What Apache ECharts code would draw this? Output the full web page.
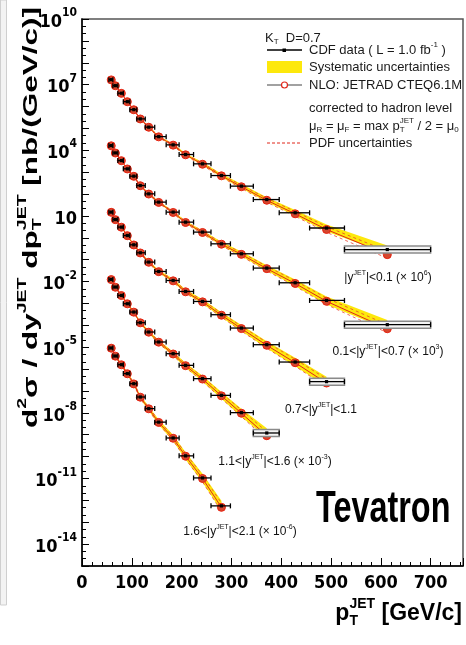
<!DOCTYPE html>
<html><head><meta charset="utf-8">
<script src="https://cdn.jsdelivr.net/npm/echarts@6/dist/echarts.min.js"></script>
<style>html,body{margin:0;padding:0;background:#fff}#c{width:466px;height:645px}</style>
</head><body><div id="c"></div>
<script>
// ---- data (pT in GeV/c, cross sections in nb/(GeV/c), already scaled by the factors in the labels)
const ptCenter = [58.7, 67, 79, 91, 104, 117, 134, 154, 183, 208, 242, 280, 320, 371, 428, 491, 613];
const binLow   = [54, 62, 72, 83, 96, 110, 127, 146, 169, 195, 224, 259, 298, 344, 396, 457, 527];
const binHigh  = [62, 72, 83, 96, 110, 127, 146, 169, 195, 224, 259, 298, 344, 396, 457, 527, 700];

const cdf1 = [1.69e7, 9.0e6, 4.05e6, 1.67e6, 7.2e5, 2.72e5, 1.14e5, 4.2e4, 1.77e4, 6.4e3, 2.4e3, 700, 230, 56, 13.9, 2.8, 0.29];
const nlo1 = [1.65e7, 8.9e6, 4.0e6, 1.66e6, 7.1e5, 2.7e5, 1.13e5, 4.1e4, 1.72e4, 6.2e3, 2.3e3, 680, 215, 52, 12.5, 2.4, 0.17];
const cdf2 = [1.64e4, 7.6e3, 3.39e3, 1.42e3, 656, 244, 102, 42.7, 14.9, 5.2, 1.82, 0.53, 0.186, 0.0413, 8.8e-3, 1.37e-3, 1.07e-4];
const nlo2 = [1.6e4, 7.5e3, 3.35e3, 1.4e3, 645, 240, 100, 41.5, 14.4, 5.0, 1.75, 0.51, 0.175, 0.039, 8.2e-3, 1.25e-3, 7.0e-5];
const cdf3 = [14.9, 6.85, 3.08, 1.27, 0.479, 0.207, 0.0776, 0.0289, 0.0112, 3.53e-3, 1.23e-3, 3.05e-4, 7.5e-5, 1.3e-5, 2.1e-6, 2.66e-7];
const nlo3 = [14.6, 6.75, 3.05, 1.25, 0.47, 0.203, 0.076, 0.0283, 0.0108, 3.4e-3, 1.18e-3, 2.9e-4, 7.1e-5, 1.22e-5, 1.95e-6, 2.3e-7];
const cdf4 = [1.25e-2, 5.6e-3, 2.32e-3, 9.7e-4, 4.05e-4, 1.32e-4, 4.94e-5, 1.73e-5, 5.05e-6, 1.48e-6, 3.65e-7, 6.3e-8, 1.02e-8, 1.2e-9];
const nlo4 = [1.23e-2, 5.5e-3, 2.3e-3, 9.6e-4, 4.0e-4, 1.3e-4, 4.85e-5, 1.7e-5, 4.9e-6, 1.43e-6, 3.5e-7, 6.0e-8, 9.6e-9, 9.0e-10];
const cdf5 = [9.2e-6, 3.96e-6, 1.59e-6, 6.2e-7, 2.15e-7, 5.3e-8, 1.56e-8, 3.76e-9, 7.1e-10, 1.08e-10, 1.06e-11, 5.6e-13];
const nlo5 = [9.0e-6, 3.9e-6, 1.57e-6, 6.1e-7, 2.1e-7, 5.2e-8, 1.53e-8, 3.65e-9, 6.9e-10, 1.04e-10, 1.0e-11, 4.8e-13];

// systematic uncertainties (percent)
const sys1 = [6, 6, 6, 7, 7, 8, 9, 10, 12, 14, 17, 20, 24, 29, 35, 43, 55];
const sys2 = [6, 6, 7, 7, 8, 9, 10, 12, 14, 16, 19, 23, 28, 34, 42, 52, 65];
const sys3 = [8, 8, 9, 10, 11, 12, 14, 16, 19, 22, 26, 31, 37, 45, 55, 68];
const sys4 = [10, 10, 11, 12, 13, 15, 17, 20, 24, 29, 35, 42, 52, 65];
const sys5 = [13, 14, 15, 17, 19, 22, 26, 31, 38, 46, 57, 72];
// PDF uncertainties on NLO (percent)
const pdf1 = [4, 4, 4, 5, 5, 6, 7, 8, 9, 11, 13, 16, 19, 23, 28, 35, 45];
const pdf2 = [4, 4, 5, 5, 6, 7, 8, 9, 11, 13, 15, 18, 22, 27, 33, 41, 52];
const pdf3 = [5, 5, 6, 7, 8, 9, 10, 12, 14, 17, 20, 24, 29, 36, 44, 55];
const pdf4 = [6, 7, 8, 9, 10, 11, 13, 15, 18, 22, 27, 33, 41, 52];
const pdf5 = [8, 9, 10, 11, 13, 15, 18, 22, 27, 34, 43, 56];

const yLabelExp = [10, 7, 4, 1, -2, -5, -8, -11, -14];

const sets = [
  {cdf: cdf1, nlo: nlo1, sys: sys1, pdf: pdf1, box: true},
  {cdf: cdf2, nlo: nlo2, sys: sys2, pdf: pdf2, box: true},
  {cdf: cdf3, nlo: nlo3, sys: sys3, pdf: pdf3, box: true},
  {cdf: cdf4, nlo: nlo4, sys: sys4, pdf: pdf4, box: true},
  {cdf: cdf5, nlo: nlo5, sys: sys5, pdf: pdf5, box: false}
];

const LG = v => Math.log10(v);
const NARROW = "'Liberation Sans Narrow','DejaVu Sans Condensed','Liberation Sans',sans-serif";
const SANS = "'Liberation Sans',Arial,sans-serif";
const RED = '#e0261a';
const YEL = '#fde80c';

// ---------- text helpers ----------
const mctx = document.createElement('canvas').getContext('2d');
function tw(t, font) { mctx.font = font; return mctx.measureText(t).width; }
function pieces(list, opt) {
  const F = opt.size, fam = opt.family, wt = opt.weight || 'normal', col = opt.color || '#000';
  let x = 0; const out = [];
  for (const [t, kind] of list) {
    const sz = kind === 'n' ? F : Math.round(F * 0.62);
    const font = wt + ' ' + sz + 'px ' + fam;
    const dy = kind === 'sup' ? -F * 0.42 : (kind === 'sub' || kind === 'subS') ? F * 0.3 : 0;
    out.push({type: 'text', x: x, y: dy, silent: true,
      style: {text: t, font: font, fill: col, verticalAlign: 'middle', align: 'left'}});
    if (kind !== 'subS') x += tw(t, font);
  }
  return {children: out, width: x};
}
function textGroup(list, opt, x, y, anchor) {
  const r = pieces(list, opt);
  let gx = x;
  if (anchor === 'center') gx = x - r.width / 2;
  if (anchor === 'right') gx = x - r.width;
  return {type: 'group', x: gx, y: y, children: r.children, silent: true};
}

// ---------- series ----------
const series = [];
sets.forEach((s, k) => {
  const n = s.cdf.length;
  const pts = ptCenter.slice(0, n);
  // systematic band
  series.push({
    type: 'custom', z: 1, silent: true,
    data: pts.map((p, i) => [p, LG(s.cdf[i])]),
    renderItem: (params, api) => {
      if (params.dataIndex !== 0) return null;
      const up = [], dn = [];
      for (let i = 0; i < n; i++) {
        const f = 1 + s.sys[i] / 100;
        up.push(api.coord([pts[i], LG(s.cdf[i] * f)]));
        dn.push(api.coord([pts[i], LG(s.cdf[i] / f)]));
      }
      return {type: 'polygon', shape: {points: up.concat(dn.reverse())},
        style: {fill: YEL, stroke: null}};
    }
  });
  // pdf uncertainty dashed lines
  [1, -1].forEach(sign => {
    series.push({
      type: 'line', z: 2, silent: true, symbol: 'none',
      data: pts.map((p, i) => [p, LG(s.nlo[i] * Math.pow(1 + s.pdf[i] / 100, sign))]),
      lineStyle: {color: '#e8412c', width: 0.8, type: [3, 3]}
    });
  });
  // NLO
  series.push({
    type: 'line', z: 3, silent: true,
    data: pts.map((p, i) => [p, LG(s.nlo[i])]),
    symbol: 'circle', symbolSize: 8,
    itemStyle: {color: '#d4472e', borderColor: '#e8210f', borderWidth: 1},
    lineStyle: {color: RED, width: 1}
  });
  // CDF data points with bin-width bars
  series.push({
    type: 'custom', z: 4, silent: true,
    data: pts.map((p, i) => [p, binLow[i], binHigh[i], LG(s.cdf[i])]),
    renderItem: (params, api) => {
      const y = api.value(3);
      const a = api.coord([api.value(1), y]);
      const b = api.coord([api.value(2), y]);
      const c = api.coord([api.value(0), y]);
      const ch = [];
      if (s.box && params.dataIndex === n - 1) {
        ch.push({type: 'rect', shape: {x: a[0], y: c[1] - 3.5, width: b[0] - a[0], height: 7},
          style: {fill: '#f4f4f4', stroke: '#8a8a8a', lineWidth: 1.5}});
      }
      ch.push({type: 'line', shape: {x1: a[0], y1: c[1], x2: b[0], y2: c[1]}, style: {stroke: '#000', lineWidth: 1.3}});
      ch.push({type: 'line', shape: {x1: a[0], y1: c[1] - 2.5, x2: a[0], y2: c[1] + 2.5}, style: {stroke: '#000', lineWidth: 1.3}});
      ch.push({type: 'line', shape: {x1: b[0], y1: c[1] - 2.5, x2: b[0], y2: c[1] + 2.5}, style: {stroke: '#000', lineWidth: 1.3}});
      ch.push({type: 'rect', shape: {x: c[0] - 1.6, y: c[1] - 1.6, width: 3.2, height: 3.2}, style: {fill: '#000'}});
      return {type: 'group', children: ch};
    }
  });
});

// ---------- graphic texts ----------
const graphic = [];
// scanner strip on the left edge
graphic.push({type: 'rect', shape: {x: 0.5, y: 0, width: 6, height: 605}, style: {fill: '#f3f3f3', stroke: '#cfcfcf', lineWidth: 1}, silent: true});

// y-axis title (rotated)
const yt = pieces([
  ['d', 'n'], ['2', 'sup'], ['σ', 'n'], [' / ', 'n'], ['dy', 'n'], ['JET', 'sup'],
  [' dp', 'n'], ['T', 'subS'], ['JET', 'sup'], [' [nb/(GeV/c)]', 'n']
], {size: 21, family: SANS, weight: 'bold'});
const ytScale = 421 / yt.width;
graphic.push({type: 'group', x: 31, y: 428, rotation: Math.PI / 2, scaleX: ytScale, children: yt.children, silent: true});

// x-axis title
graphic.push(textGroup([['p', 'n'], ['T', 'subS'], ['JET', 'sup'], [' [GeV/c]', 'n']],
  {size: 23, family: SANS, weight: 'bold'}, 462, 614, 'right'));

// Tevatron
graphic.push({type: 'text', x: 316, y: 510, scaleX: 0.72, silent: true,
  style: {text: 'Tevatron', font: 'bold 45px ' + SANS, fill: '#000', verticalAlign: 'middle'}});

// legend
const LF = {size: 13, family: SANS, color: '#1a1a1a'};
graphic.push(textGroup([['K', 'n'], ['T', 'sub'], ['  D=0.7', 'n']], LF, 265, 38, 'left'));
graphic.push({type: 'line', shape: {x1: 267, y1: 50, x2: 302, y2: 50}, style: {stroke: '#000', lineWidth: 1.4}, silent: true});
graphic.push({type: 'rect', shape: {x: 282.5, y: 48.5, width: 3.5, height: 3.5}, style: {fill: '#000'}, silent: true});
graphic.push(textGroup([['CDF data ( L = 1.0 fb', 'n'], ['-1', 'sup'], [' )', 'n']], LF, 309, 50, 'left'));
graphic.push({type: 'rect', shape: {x: 267, y: 61, width: 35, height: 12}, style: {fill: YEL}, silent: true});
graphic.push(textGroup([['Systematic uncertainties', 'n']], LF, 309, 67, 'left'));
graphic.push({type: 'line', shape: {x1: 267, y1: 85, x2: 302, y2: 85}, style: {stroke: '#444', lineWidth: 1.2}, silent: true});
graphic.push({type: 'circle', shape: {cx: 284.5, cy: 85, r: 3}, style: {fill: '#fff', stroke: RED, lineWidth: 1.2}, silent: true});
graphic.push(textGroup([['NLO: JETRAD CTEQ6.1M', 'n']], LF, 309, 85, 'left'));
graphic.push(textGroup([['corrected to hadron level', 'n']], LF, 309, 108, 'left'));
graphic.push(textGroup([['μ', 'n'], ['R', 'sub'], [' = μ', 'n'], ['F', 'sub'], [' = max p', 'n'], ['T', 'subS'], ['JET', 'sup'], [' / 2 = μ', 'n'], ['0', 'sub']], LF, 309, 126, 'left'));
graphic.push({type: 'line', shape: {x1: 267, y1: 143, x2: 302, y2: 143}, style: {stroke: RED, lineWidth: 1, lineDash: [3, 2]}, silent: true});
graphic.push(textGroup([['PDF uncertainties', 'n']], LF, 309, 143, 'left'));

// rapidity bin labels
const BF = {size: 12, family: SANS, color: '#111'};
graphic.push(textGroup([['|y', 'n'], ['JET', 'sup'], ['|<0.1 (× 10', 'n'], ['6', 'sup'], [')', 'n']], BF, 388, 278, 'center'));
graphic.push(textGroup([['0.1<|y', 'n'], ['JET', 'sup'], ['|<0.7 (× 10', 'n'], ['3', 'sup'], [')', 'n']], BF, 388, 352, 'center'));
graphic.push(textGroup([['0.7<|y', 'n'], ['JET', 'sup'], ['|<1.1', 'n']], BF, 321, 410, 'center'));
graphic.push(textGroup([['1.1<|y', 'n'], ['JET', 'sup'], ['|<1.6 (× 10', 'n'], ['-3', 'sup'], [')', 'n']], BF, 275, 462, 'center'));
graphic.push(textGroup([['1.6<|y', 'n'], ['JET', 'sup'], ['|<2.1 (× 10', 'n'], ['-6', 'sup'], [')', 'n']], BF, 240, 532, 'center'));

// ---------- chart ----------
const chart = echarts.init(document.getElementById('c'), null, {renderer: 'canvas'});
chart.setOption({
  animation: false,
  backgroundColor: '#fff',
  grid: {left: 82, right: 3, top: 19, bottom: 79, show: true, borderColor: '#555', borderWidth: 1.5, backgroundColor: 'transparent'},
  xAxis: {
    type: 'value', min: 0, max: 765, interval: 100,
    axisLine: {show: true, onZero: false, lineStyle: {color: '#000', width: 1.5}},
    axisTick: {show: true, inside: true, length: 8, lineStyle: {color: '#000', width: 1}},
    minorTick: {show: true, splitNumber: 5, length: 4, lineStyle: {color: '#000', width: 1}},
    splitLine: {show: false},
    axisLabel: {margin: 8, color: '#000', fontSize: 18, fontWeight: 'bold', fontFamily: NARROW,
      formatter: v => (v % 100 === 0 ? String(v) : '')}
  },
  yAxis: {
    type: 'value', min: -15, max: 10, interval: 1,
    axisLine: {show: true, onZero: false, lineStyle: {color: '#000', width: 1.5}},
    axisTick: {show: true, inside: true, length: 7, lineStyle: {color: '#000', width: 1}},
    minorTick: {show: true, splitNumber: 3, length: 4, lineStyle: {color: '#000', width: 1}},
    splitLine: {show: false},
    axisLabel: {
      margin: 5, color: '#000',
      formatter: v => {
        if (yLabelExp.indexOf(v) < 0) return '';
        if (v === 1) return '{b|10}';
        return '{b|10}{s|' + v + '}';
      },
      rich: {
        b: {fontSize: 18, fontWeight: 'bold', fontFamily: NARROW, lineHeight: 24, verticalAlign: 'bottom', color: '#000'},
        s: {fontSize: 12, fontWeight: 'bold', fontFamily: NARROW, lineHeight: 12, verticalAlign: 'top', color: '#000'}
      }
    }
  },
  graphic: graphic,
  series: series
});
</script>
</body></html>
